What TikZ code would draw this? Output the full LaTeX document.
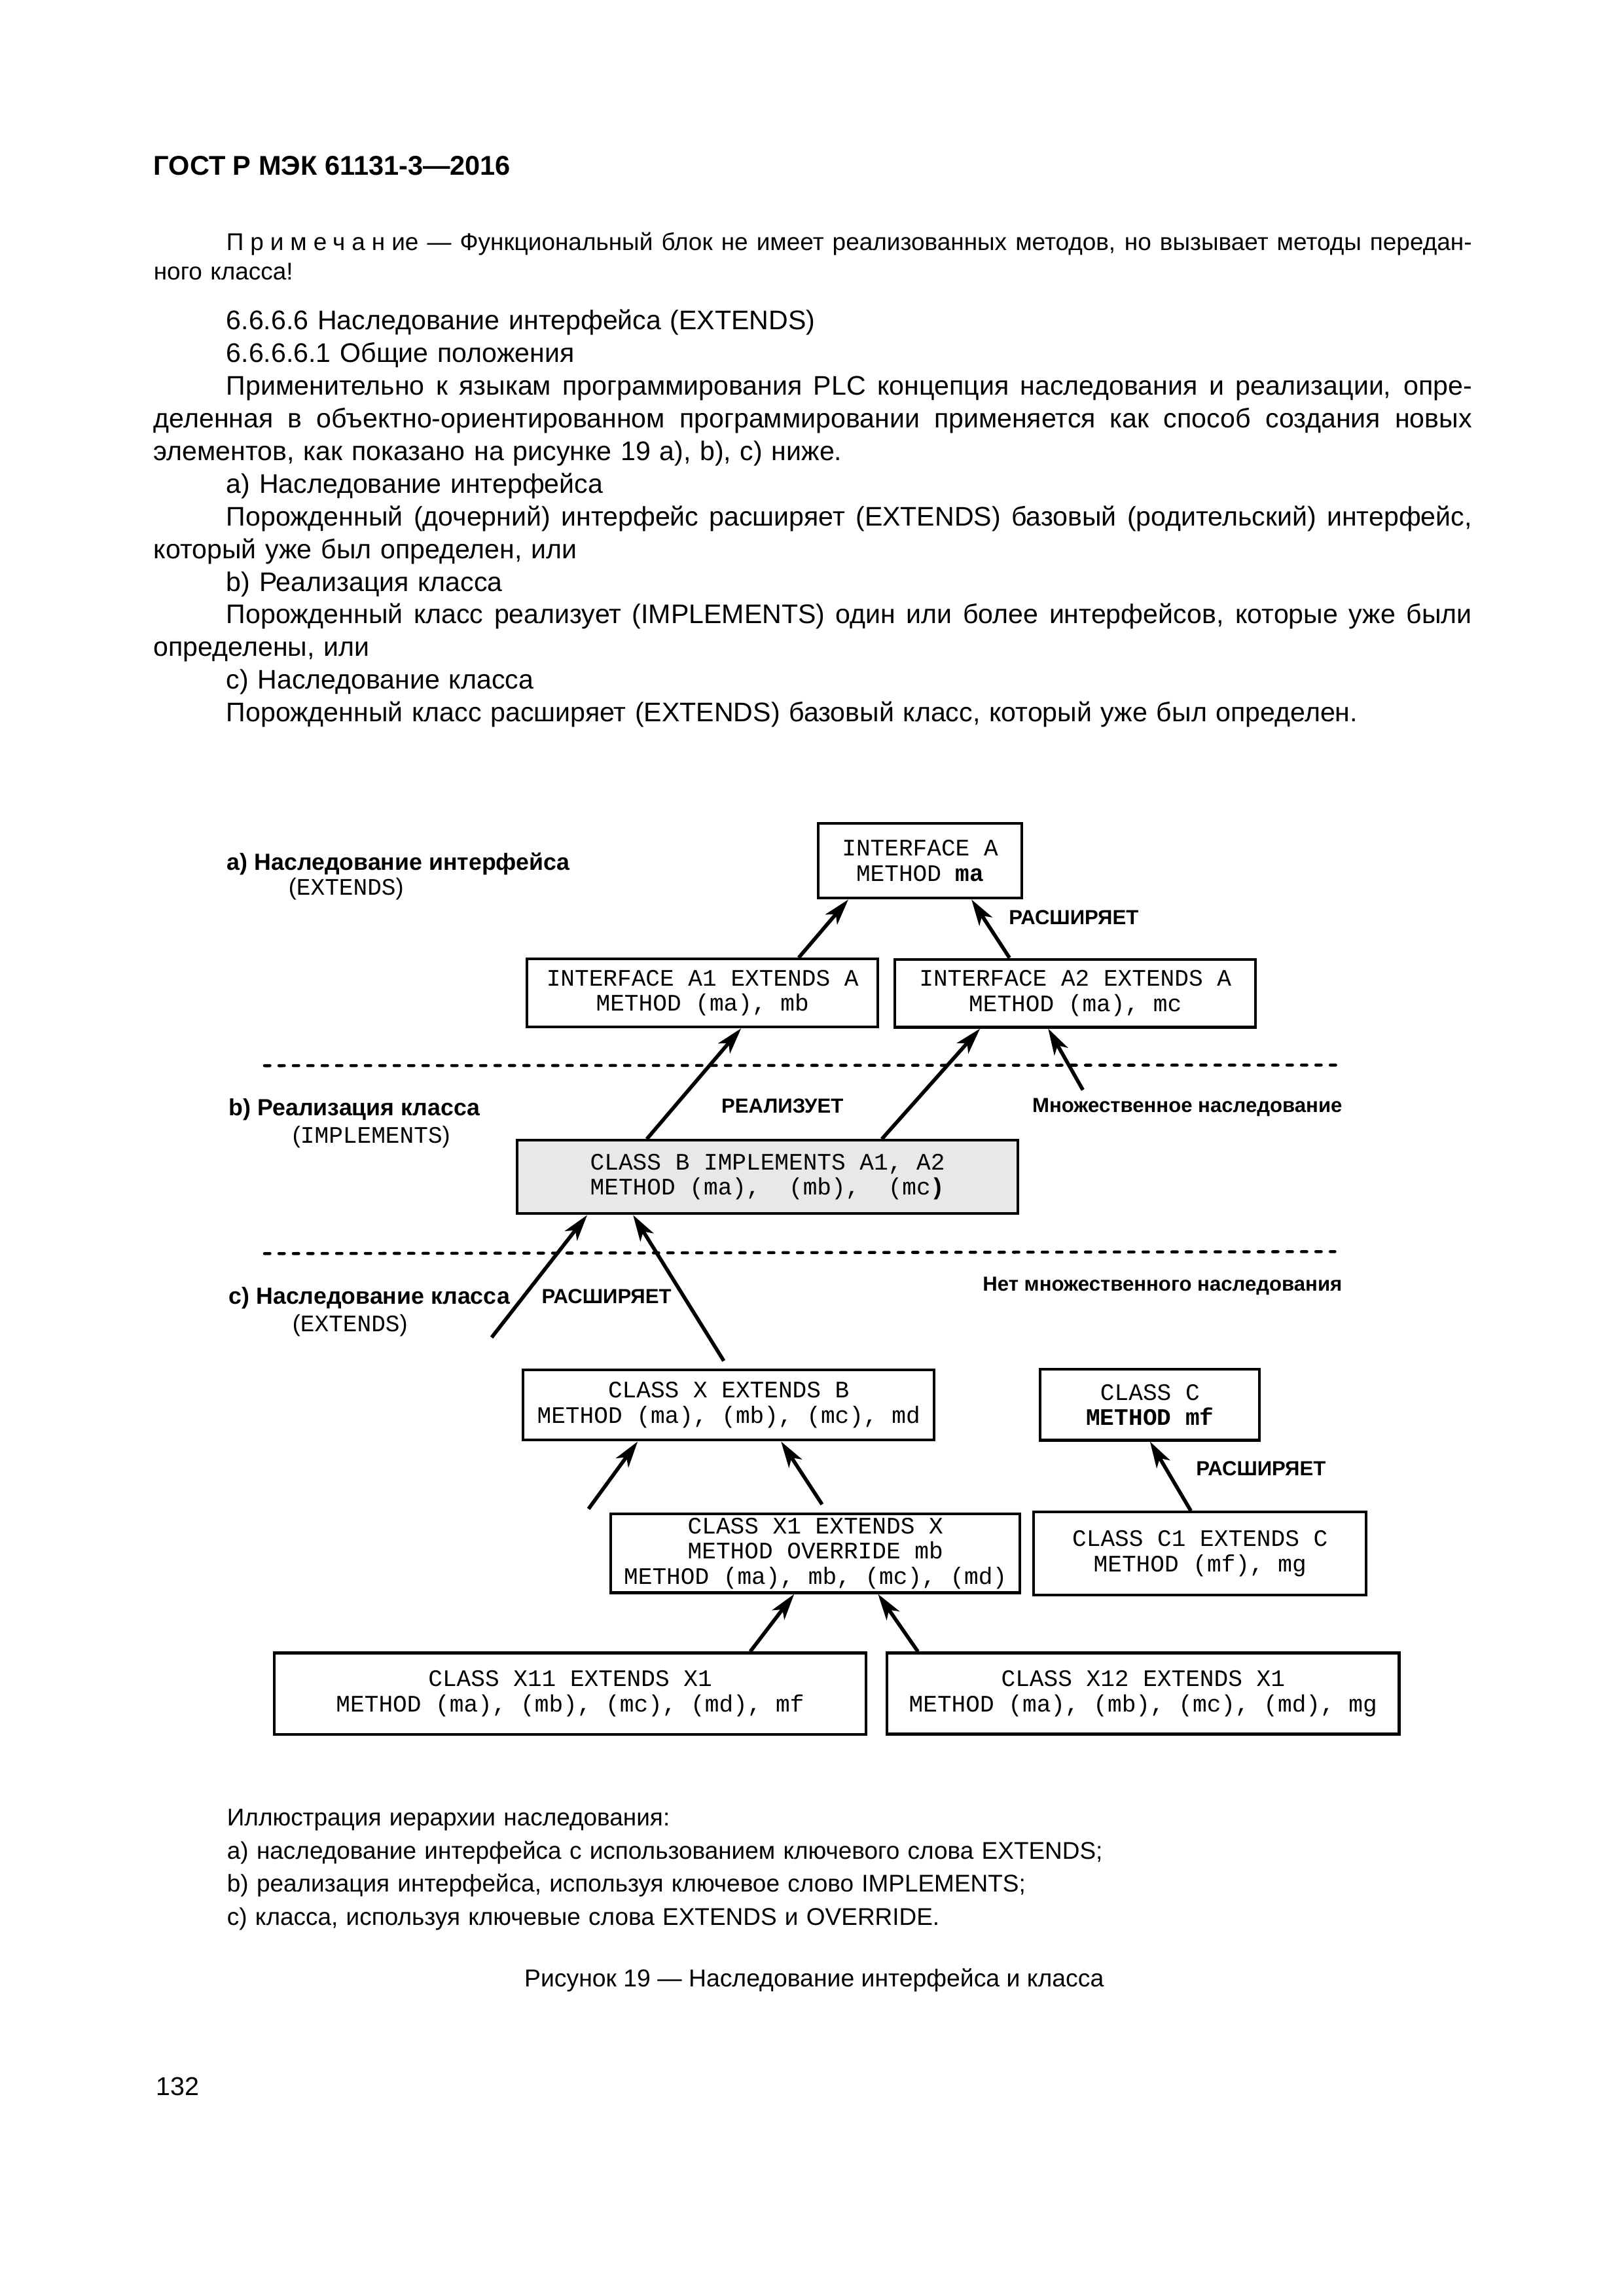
\documentclass[tikz,border=0pt]{standalone}
\usepackage{fontspec}
\setmainfont{Liberation Sans}
\setmonofont{Liberation Mono}
\usetikzlibrary{positioning,arrows.meta}
\tikzstyle{cls}=[rectangle, draw=black, line width=1pt, fill=white, align=center, inner sep=0pt, font=\ttfamily\fontsize{8.7}{9.3}\selectfont]
\tikzstyle{remark}=[inner sep=0pt, font=\bfseries\fontsize{7.5}{9}\selectfont]
\tikzstyle{heading}=[anchor=west, inner sep=0pt, font=\bfseries\fontsize{8.6}{10}\selectfont]
\tikzstyle{keyword}=[anchor=west, inner sep=0pt, font=\fontsize{8.7}{10}\selectfont]
\tikzstyle{pagetext}=[anchor=north west, inner sep=0pt, text width=17.05cm]
\tikzstyle{divider}=[line width=1.1pt, line cap=round, dash pattern=on 2pt off 3.3pt]
\newlength\pagetextwidth
\setlength\pagetextwidth{17.05cm}
\newcommand\firstind{\hspace*{0.94cm}}
\newcommand\jline[1]{\par\noindent\hbox to\pagetextwidth{\spaceskip=0pt\xspaceskip=0pt\strut#1}\par}
\newcommand\rline[1]{\par\noindent\hbox{\strut#1}\par}
\lineskiplimit=-10pt

\begin{document}
\begin{tikzpicture}[
        line/.style={-{Stealth[length=3.4mm,width=2mm,inset=0.9mm]}, line width=1.35pt},
      ]
      \useasboundingbox (0,0) rectangle (21,-29.7);
      % page text above the figure
      \node (Header) [anchor=base west, inner sep=0pt, font=\bfseries\fontsize{10}{12}\selectfont] at (1.981,-2.261) {ГОСТ Р МЭК 61131-3—2016};
      \node (Note) [pagetext, font=\fontsize{8.9}{10.8}\selectfont] at (1.981,-2.852)
            {
              \jline{\firstind{\addfontfeature{LetterSpace=27}Примечани}е — Функциональный блок не имеет реализованных методов, но вызывает методы передан-}
              \rline{ного класса!}
            };
      \node (Body) [pagetext, font=\fontsize{9.9}{12.02}\selectfont] at (1.981,-3.836)
            {
              \rline{\firstind 6.6.6.6 Наследование интерфейса (EXTENDS)}
              \rline{\firstind 6.6.6.6.1 Общие положения}
              \jline{\firstind Применительно к языкам программирования PLC концепция наследования и реализации, опре-}
              \jline{деленная в объектно-ориентированном программировании применяется как способ создания новых}
              \rline{элементов, как показано на рисунке 19 a), b), c) ниже.}
              \rline{\firstind a) Наследование интерфейса}
              \jline{\firstind Порожденный (дочерний) интерфейс расширяет (EXTENDS) базовый (родительский) интерфейс,}
              \rline{который уже был определен, или}
              \rline{\firstind b) Реализация класса}
              \jline{\firstind Порожденный класс реализует (IMPLEMENTS) один или более интерфейсов, которые уже были}
              \rline{определены, или}
              \rline{\firstind c) Наследование класса}
              \rline{\firstind Порожденный класс расширяет (EXTENDS) базовый класс, который уже был определен.}
            };
      % level a)
      \node (SecA) [heading] at (2.930,-11.177) {а) Наследование интерфейса};
      \node (KwA) [keyword] at (3.726,-11.499) {(\texttt{EXTENDS})};
      \node (IfaceA) [cls, minimum width=2.63cm, minimum height=0.965cm] at (11.90,-11.135)
            {INTERFACE A\\METHOD \textbf{ma}};
      \node (IfaceAOne) [cls, minimum width=4.54cm, minimum height=0.88cm] at (9.086,-12.845)
            {INTERFACE A1 EXTENDS A\\METHOD (ma), mb};
      \node (IfaceATwo) [cls, minimum width=4.666cm, minimum height=0.88cm] at (13.908,-12.848)
            {INTERFACE A2 EXTENDS A\\METHOD (ma), mc};
      \node (ExtTop) [remark] at (13.887,-11.872) {РАСШИРЯЕТ};
      \draw [divider] (3.421,-13.785) -- (17.342,-13.777);
      % level b)
      \node (SecB) [heading] at (2.955,-14.353) {b) Реализация класса};
      \node (KwB) [keyword] at (3.777,-14.709) {(\texttt{IMPLEMENTS})};
      \node (ClassB) [cls, fill=black!9, minimum width=6.478cm, minimum height=0.948cm] at (9.928,-15.225)
            {CLASS B IMPLEMENTS A1, A2\\METHOD (ma),\ \ (mb),\ \ (mc\textbf{)}};
      \node (Impl) [remark] at (10.119,-14.310) {РЕАЛИЗУЕТ};
      \node (Multi) [remark] at (15.356,-14.327) {Множественное наследование};
      \coordinate (MultiTail) at (14.006,-14.099);
      \draw [divider] (3.421,-16.216) -- (17.266,-16.190);
      % level c)
      \node (SecC) [heading] at (2.955,-16.791) {c) Наследование класса};
      \node (KwC) [keyword] at (3.777,-17.147) {(\texttt{EXTENDS})};
      \node (NoMulti) [remark] at (15.035,-16.639) {Нет множественного наследования};
      \node (ExtMid) [remark] at (7.845,-16.766) {РАСШИРЯЕТ};
      \coordinate (BTail) at (6.359,-17.300);
      \node (ClassX) [cls, minimum width=5.318cm, minimum height=0.906cm] at (9.425,-18.176)
            {CLASS X EXTENDS B\\METHOD (ma), (mb), (mc), md};
      \node (ClassC) [cls, minimum width=2.837cm, minimum height=0.915cm] at (14.874,-18.172)
            {CLASS C\\\textbf{METHOD mf}};
      \node (ExtRight) [remark] at (16.309,-18.993) {РАСШИРЯЕТ};
      \coordinate (XTail) at (7.612,-19.518);
      \node (ClassXOne) [cls, minimum width=5.292cm, minimum height=1.016cm] at (10.547,-20.094)
            {CLASS X1 EXTENDS X\\METHOD OVERRIDE mb\\METHOD (ma), mb, (mc), (md)};
      \node (ClassCOne) [cls, minimum width=4.302cm, minimum height=1.075cm] at (15.521,-20.098)
            {CLASS C1 EXTENDS C\\METHOD (mf), mg};
      \node (ClassXOneOne) [cls, minimum width=7.655cm, minimum height=1.058cm] at (7.375,-21.910)
            {CLASS X11 EXTENDS X1\\METHOD (ma), (mb), (mc), (md), mf};
      \node (ClassXOneTwo) [cls, minimum width=6.622cm, minimum height=1.05cm] at (14.785,-21.906)
            {CLASS X12 EXTENDS X1\\METHOD (ma), (mb), (mc), (md), mg};
      % connectors
      \draw [line] ([xshift=1.245cm]IfaceAOne.north) -- ([xshift=-0.927cm]IfaceA.south);
      \draw [line] ([xshift=-0.851cm]IfaceATwo.north) -- ([xshift=0.665cm]IfaceA.south);
      \draw [line] ([xshift=-1.562cm]ClassB.north) -- ([xshift=0.5cm]IfaceAOne.south);
      \draw [line] ([xshift=1.478cm]ClassB.north) -- ([xshift=-1.232cm]IfaceATwo.south);
      \draw [line] (MultiTail) -- ([xshift=-0.351cm]IfaceATwo.south);
      \draw [line] (BTail) -- ([xshift=-2.333cm]ClassB.south);
      \draw [line, shorten <=0.12cm] (ClassX.north) -- ([xshift=-1.740cm]ClassB.south);
      \draw [line] (XTail) -- ([xshift=-1.177cm]ClassX.south);
      \draw [line, shorten <=0.13cm] ([xshift=0.157cm]ClassXOne.north) -- ([xshift=0.677cm]ClassX.south);
      \draw [line] ([xshift=-0.119cm]ClassCOne.north) -- (ClassC.south);
      \draw [line] ([xshift=2.329cm]ClassXOneOne.north) -- ([xshift=-0.275cm]ClassXOne.south);
      \draw [line] ([xshift=-2.913cm]ClassXOneTwo.north) -- ([xshift=0.809cm]ClassXOne.south);
      % page text below the figure
      \node (Legend) [pagetext, font=\fontsize{8.9}{12.15}\selectfont] at (2.930,-23.185)
            {
              \rline{Иллюстрация иерархии наследования:}
              \rline{а) наследование интерфейса с использованием ключевого слова EXTENDS;}
              \rline{b) реализация интерфейса, используя ключевое слово IMPLEMENTS;}
              \rline{c) класса, используя ключевые слова EXTENDS и OVERRIDE.}
            };
      \node (FigTitle) [anchor=base, inner sep=0pt, font=\fontsize{9}{12}\selectfont] at (10.53,-25.70) {Рисунок 19 — Наследование интерфейса и класса};
      \node (PageNo) [anchor=base west, inner sep=0pt, font=\fontsize{9.5}{12}\selectfont] at (2.015,-27.105) {132};
    \end{tikzpicture}
\end{document}
